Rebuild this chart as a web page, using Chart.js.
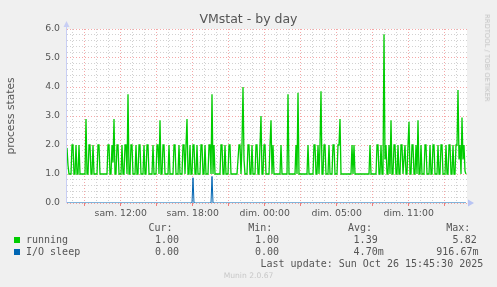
<!DOCTYPE html>
<html>
<head>
<meta charset="utf-8">
<script src="https://cdn.jsdelivr.net/npm/chart.js@4/dist/chart.umd.min.js"></script>
<style>
  body { margin: 0; background: #f0f0f0; }
  #wrap { position: relative; width: 497px; height: 287px; overflow: hidden; background: #f0f0f0; }
  #c { position: absolute; left: 0; top: 0; }
  .txt { position: absolute; white-space: pre; color: #555; }
  .mono { font-family: 'DejaVu Sans Mono', monospace; font-size: 10px; line-height: 12px; }
  .sq { position: absolute; width: 6px; height: 6px; }
</style>
</head>
<body>
<div id="wrap">
  <canvas id="c" width="497" height="287"></canvas>
  <div class="txt" id="title" style="left:0;top:11px;width:497px;text-align:center;font-family:'DejaVu Sans';font-size:12.5px;line-height:15px;"></div>
  <div class="txt" id="rrd" style="left:487px;top:58px;font-family:'DejaVu Sans';font-size:6.8px;line-height:8px;color:#c4c4c4;transform:translate(-50%,-50%) rotate(90deg);"></div>
  <div id="legend"></div>
  <div class="txt mono" id="upd" style="left:260.5px;top:257.5px;"></div>
  <div class="txt" id="munin" style="left:0;width:497px;top:271px;text-align:center;font-family:'DejaVu Sans';font-size:7.6px;line-height:10px;color:#c8c8c8;"></div>
</div>
<script>
// sonde "running" - une valeur toutes les 5 min (400 points)
const running = [
  1.9, 1.3, 1, 1, 1, 2, 2, 1, 1, 2, 1, 1, 2, 1, 1, 1, 1, 1, 1, 2.9,
  1, 1, 2, 2, 1, 1, 2, 1, 1, 1, 1, 2, 2, 1, 1, 1, 1, 1, 1, 1,
  1, 2, 2, 1, 1, 2, 1.4, 2.9, 1, 1, 2, 2, 1, 1, 1, 2, 1, 1, 2, 2,
  1, 3.75, 1, 1, 2, 2, 1, 1, 1, 2, 1, 1, 2, 2, 1, 1, 1, 2, 1, 1,
  2, 2, 1, 1, 1, 1, 2, 1, 1, 1, 2, 2, 1, 2.85, 1, 1, 2, 2, 1, 1,
  1, 1, 2, 1, 1, 1, 1, 2, 2, 1, 1, 1, 2, 1, 1, 1, 2, 2, 1, 2,
  2.9, 1, 1, 2, 1, 1, 2, 2, 1, 1, 2, 1, 1, 1, 2, 2, 1, 1, 2, 1,
  1, 1, 2, 2, 1, 3.75, 1, 2, 1, 1, 1, 1, 1, 1, 2, 2, 1, 1, 2, 1,
  1, 1, 2, 2, 1, 1, 1, 1, 1, 1, 1, 1.5, 2, 2, 1, 2, 4.0, 1.5, 1, 1,
  1, 2, 2, 1, 1, 2, 1, 1, 1, 2, 2, 1, 1, 2, 3.0, 1, 1, 2, 2, 1,
  1, 1, 1, 2, 2.85, 1, 2, 1, 1, 1, 1, 1, 1, 1, 2, 1, 1, 1, 1, 1,
  1, 3.75, 1, 1, 1, 1, 1, 1, 1, 2, 1, 3.8, 1, 1, 1, 1, 1, 1, 1, 1,
  1, 2, 1, 1, 1, 1, 1, 2, 2, 1, 1, 2, 1, 2, 3.85, 1, 1, 2, 2, 1,
  1, 1, 2, 1, 1, 1, 2, 2, 1, 1, 1, 2, 2, 2.9, 1, 1, 1, 1, 1, 1,
  1, 1, 1, 1, 1, 2, 1, 2, 1, 1, 1, 1, 1, 1, 1, 1, 1, 1, 1, 1,
  1, 1, 1, 2, 1, 1, 1, 1, 1, 1, 2, 2, 1, 1, 2, 1, 1, 5.82, 1.5, 2,
  1, 1, 2, 1, 2.85, 1, 1, 2, 2, 1, 1, 2, 1, 1, 2, 2, 1, 1.5, 2, 1,
  1, 2, 2.8, 1, 1, 2, 2, 1, 1, 2, 1, 2.85, 1, 1, 2, 1, 1, 1, 2, 2,
  1, 1, 1, 2, 1, 1, 2, 2, 1, 1, 1, 2, 1, 1, 2, 2, 1, 1, 1, 2,
  1, 1, 2, 2, 1, 1, 2, 1, 1, 2, 2, 3.9, 1.5, 2, 1, 2.95, 1.5, 2, 1.1, 1
];

// I/O sleep : zero partout sauf deux pics
const ioSleepAt = [0, 125, 126, 127, 144, 145, 146, 399];
const ioSleepVal = [0, 0, 0.87, 0, 0, 0.917, 0, 0];

// axe du temps (index d'echantillon)
const xLabels = ['sam. 12:00', 'sam. 18:00', 'dim. 00:00', 'dim. 05:00', 'dim. 11:00'];
const xLabelAt = [53.7, 125.7, 197.7, 269.7, 341.7];

// legende
const seriesNames = ['running', 'I/O sleep'];
const seriesColors = ['#00cc00', '#0066b3'];
const statCur = ['1.00', '0.00'];
const statMin = ['1.00', '0.00'];
const statAvg = ['1.39', '4.70m'];
const statMax = ['5.82', '916.67m'];

const GRID = 'rgba(190,190,190,0.7)';
const MGRID = 'rgba(240,120,120,0.65)';

const isMajorX = v => Math.round(v - xLabelAt[0]) % 36 === 0;
const isMajorY = v => Math.abs(v - Math.round(v)) < 1e-6;

// fond gris + zone blanche
const bgPlugin = {
  id: 'bg',
  beforeDraw(chart) {
    const { ctx, chartArea: a } = chart;
    ctx.save();
    ctx.fillStyle = '#f0f0f0';
    ctx.fillRect(0, 0, chart.width, chart.height);
    ctx.fillStyle = '#ffffff';
    ctx.fillRect(a.left, a.top, a.right - a.left, a.bottom - a.top);
    ctx.restore();
  }
};

// fleches des axes facon rrdtool
const arrowPlugin = {
  id: 'arrows',
  afterDatasetsDraw(chart) {
    const { ctx, chartArea: a } = chart;
    ctx.save();
    ctx.strokeStyle = '#c8cef4';
    ctx.lineWidth = 1;
    ctx.beginPath();
    ctx.moveTo(a.left - 0.5, a.bottom);
    ctx.lineTo(a.left - 0.5, a.top - 6);
    ctx.stroke();
    ctx.fillStyle = '#c8cef4';
    ctx.beginPath();
    ctx.moveTo(a.left - 3.5, a.top - 2);
    ctx.lineTo(a.left + 2.5, a.top - 2);
    ctx.lineTo(a.left - 0.5, a.top - 8);
    ctx.closePath();
    ctx.fill();
    ctx.fillStyle = '#b8c4f4';
    ctx.beginPath();
    ctx.moveTo(a.right + 1, a.bottom - 3.5);
    ctx.lineTo(a.right + 1, a.bottom + 3.5);
    ctx.lineTo(a.right + 7, a.bottom);
    ctx.closePath();
    ctx.fill();
    ctx.restore();
  }
};

Chart.defaults.font.family = "'DejaVu Sans'";
Chart.defaults.color = '#555';

const ctx = document.getElementById('c').getContext('2d');
const chart = new Chart(ctx, {
  type: 'line',
  data: {
    datasets: [
      {
        label: seriesNames[0],
        data: running.map((v, i) => ({ x: i, y: v })),
        borderColor: seriesColors[0],
        borderWidth: 1.3,
        pointRadius: 0,
        tension: 0,
        order: 1
      },
      {
        label: seriesNames[1],
        data: ioSleepAt.map((x, i) => ({ x: x, y: ioSleepVal[i] })),
        borderColor: seriesColors[1],
        borderWidth: 1,
        pointRadius: 0,
        tension: 0,
        order: 0
      }
    ]
  },
  options: {
    responsive: false,
    animation: false,
    devicePixelRatio: 1,
    layout: { padding: { left: 0, right: 30, top: 29, bottom: 0 } },
    plugins: { legend: { display: false }, tooltip: { enabled: false } },
    scales: {
      x: {
        type: 'linear',
        min: 0,
        max: 400,
        afterFit: s => { s.height = 84; },
        afterBuildTicks: s => {
          const t = [];
          for (let k = 0; ; k++) {
            const v = xLabelAt[0] - 48 + 12 * k;
            if (v > 400) break;
            t.push({ value: v });
          }
          s.ticks = t;
        },
        ticks: {
          autoSkip: false,
          maxRotation: 0,
          padding: 2,
          font: { size: 9.3 },
          color: '#555',
          callback: v => {
            const j = xLabelAt.findIndex(p => Math.abs(p - v) < 0.01);
            return j >= 0 ? xLabels[j] : '';
          }
        },
        grid: {
          color: c => isMajorX(c.tick.value) ? MGRID : GRID,
          lineWidth: 1,
          tickLength: 3,
          tickColor: c => isMajorX(c.tick.value) ? 'rgba(240,110,110,0.9)' : 'rgba(0,0,0,0)'
        },
        border: { display: false, dash: [1, 2] }
      },
      y: {
        min: 0,
        max: 6,
        afterFit: s => { s.width = 67; },
        afterBuildTicks: s => {
          const t = [];
          for (let k = 0; k <= 30; k++) t.push({ value: k / 5 });
          s.ticks = t;
        },
        ticks: {
          autoSkip: false,
          padding: 7,
          font: { size: 9.3 },
          color: '#555',
          callback: v => isMajorY(v) ? v.toFixed(1) : ''
        },
        grid: {
          color: c => isMajorY(c.tick.value) ? MGRID : GRID,
          lineWidth: 1,
          drawTicks: false
        },
        border: { display: false, dash: [1, 2] },
        title: {
          display: true,
          text: 'process states',
          color: '#555',
          font: { size: 10.7 },
          padding: { top: 4.5, bottom: 0 }
        }
      }
    }
  },
  plugins: [bgPlugin, arrowPlugin]
});

// textes autour du graphique
document.getElementById('title').textContent = 'VMstat - by day';
document.getElementById('rrd').textContent = 'RRDTOOL / TOBI OETIKER';
document.getElementById('upd').textContent = 'Last update: Sun Oct 26 15:45:30 2025';
document.getElementById('munin').textContent = 'Munin 2.0.67';

const legend = document.getElementById('legend');
function addText(str, left, top) {
  const d = document.createElement('div');
  d.className = 'txt mono';
  d.style.left = left + 'px';
  d.style.top = top + 'px';
  d.textContent = str;
  legend.appendChild(d);
}
const colX = [148.5, 248.3, 348, 446.3];
['Cur:', 'Min:', 'Avg:', 'Max:'].forEach((h, i) => addText(h, colX[i], 221.7));
const valX = [155, 255, 353.6, 452.6];
seriesNames.forEach((name, r) => {
  const top = 233.7 + r * 12;
  const sq = document.createElement('div');
  sq.className = 'sq';
  sq.style.left = '14px';
  sq.style.top = (237 + r * 12) + 'px';
  sq.style.background = seriesColors[r];
  legend.appendChild(sq);
  addText(name, 26, top);
  addText(statCur[r], valX[0], top);
  addText(statMin[r], valX[1], top);
  addText(statAvg[r], valX[2], top);
  addText(statMax[r], statMax[r].length > 5 ? 436.3 : valX[3], top);
});
</script>
</body>
</html>
